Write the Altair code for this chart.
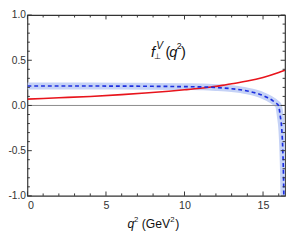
import altair as alt
import pandas as pd

# ---- data ----
blue_q = [0, 2, 4, 6, 8, 10, 11.2, 12, 13, 14, 14.55, 15, 15.3, 15.6, 15.8, 15.98, 16.1, 16.2, 16.26, 16.3, 16.33, 16.36]
blue_f = [0.215, 0.215, 0.215, 0.214, 0.212, 0.208, 0.205, 0.198, 0.185, 0.16, 0.137, 0.11, 0.085, 0.055, 0.03, 0.0, -0.12, -0.28, -0.5, -0.75, -1.05, -1.3]

red_q = [0, 2, 4, 6, 7.5, 9, 10, 11, 11.7, 12.4, 13, 14, 15, 16, 16.4]
red_f = [0.07, 0.085, 0.10, 0.12, 0.138, 0.158, 0.173, 0.19, 0.205, 0.222, 0.24, 0.27, 0.31, 0.365, 0.39]

x_major = [0, 5, 10, 15]
x_minor = [1, 2, 3, 4, 6, 7, 8, 9, 11, 12, 13, 14, 16]
y_major = [-1.0, -0.5, 0.0, 0.5, 1.0]
y_minor = [-0.9, -0.8, -0.7, -0.6, -0.4, -0.3, -0.2, -0.1, 0.1, 0.2, 0.3, 0.4, 0.6, 0.7, 0.8, 0.9]

W, H = 265, 186
XMAX = 16.4
FONT = "Liberation Sans"
FRAME = "#333333"

blue = pd.DataFrame({"q": blue_q, "f": blue_f})
red = pd.DataFrame({"q": red_q, "f": red_f})

xs = alt.Scale(domain=[0, XMAX], nice=False, zero=False)
ys = alt.Scale(domain=[-1, 1], nice=False)

xaxis = alt.Axis(values=x_major, ticks=False, domain=False, grid=False, title=None,
                 labelPadding=4, labelFontSize=11, labelFont=FONT, labelColor="#333",
                 format="d")
yaxis = alt.Axis(values=y_major, ticks=False, domain=False, grid=False, title=None,
                 labelPadding=2, labelFontSize=10.5, labelFont=FONT, labelColor="#333",
                 labelExpr="replace(format(datum.value, '.1f'), '\u2212', '-')")

band = alt.Chart(blue).mark_line(color="#c5d2f6", strokeWidth=7, clip=True,
                                 interpolate="monotone").encode(
    x=alt.X("q:Q", scale=xs, axis=xaxis),
    y=alt.Y("f:Q", scale=ys, axis=yaxis),
)

zero = alt.Chart(pd.DataFrame({"z": [0.0]})).mark_rule(color="#888888", strokeWidth=1).encode(
    y=alt.Y("z:Q", scale=ys)
)

red_line = alt.Chart(red).mark_line(color="#e8141c", strokeWidth=1.6, clip=True,
                                    interpolate="monotone").encode(
    x=alt.X("q:Q", scale=xs), y=alt.Y("f:Q", scale=ys)
)

blue_line = alt.Chart(blue).mark_line(color="#1c2ee0", strokeWidth=1.7, strokeDash=[4, 3],
                                      clip=True, interpolate="monotone").encode(
    x=alt.X("q:Q", scale=xs), y=alt.Y("f:Q", scale=ys)
)

def xticks(vals, length):
    d = pd.DataFrame({"t": vals})
    bot = alt.Chart(d).mark_rule(color=FRAME, strokeWidth=1).encode(
        x=alt.X("t:Q", scale=xs), y=alt.value(H), y2=alt.value(H - length))
    top = alt.Chart(d).mark_rule(color=FRAME, strokeWidth=1).encode(
        x=alt.X("t:Q", scale=xs), y=alt.value(0), y2=alt.value(length))
    return [bot, top]

def yticks(vals, length):
    d = pd.DataFrame({"t": vals})
    left = alt.Chart(d).mark_rule(color=FRAME, strokeWidth=1).encode(
        y=alt.Y("t:Q", scale=ys), x=alt.value(0), x2=alt.value(length))
    right = alt.Chart(d).mark_rule(color=FRAME, strokeWidth=1).encode(
        y=alt.Y("t:Q", scale=ys), x=alt.value(W), x2=alt.value(W - length))
    return [left, right]

one = pd.DataFrame({"a": [0]})

def txt(s, x, y, size, italic=False, color="#111"):
    return alt.Chart(one).mark_text(text=s, font=FONT, fontSize=size, align="left",
                                    baseline="alphabetic", color=color,
                                    fontStyle="italic" if italic else "normal").encode(
        x=alt.value(x), y=alt.value(y))

labels = [
    txt("f", 127, 43, 15, italic=True),
    txt("\u22a5", 130.5, 45, 8),
    txt("V", 132.5, 35, 10.5, italic=True),
    txt("(", 142, 43, 15),
    txt("q", 146, 43, 15, italic=True),
    txt("2", 153.5, 35, 9),
    txt(")", 158, 43, 15),
    txt("q", 103, 219, 12.5, italic=True),
    txt("2", 109.5, 213, 8),
    txt("(GeV", 117.5, 219, 12.5),
    txt("2", 147, 213, 8),
    txt(")", 152, 219, 12.5),
]

layers = [band, zero, red_line, blue_line] + xticks(x_major, 4.5) + xticks(x_minor, 2.5) \
    + yticks(y_major, 4.5) + yticks(y_minor, 2.5) + labels

chart = alt.layer(*layers).properties(
    width=W, height=H,
    autosize=alt.AutoSizeParams(type="none"),
    padding={"left": 20, "top": 4, "right": 1, "bottom": 37},
).configure_view(stroke=FRAME, strokeWidth=1.2)

chart.save("out.html", embed_options={"renderer": "svg", "actions": False})
